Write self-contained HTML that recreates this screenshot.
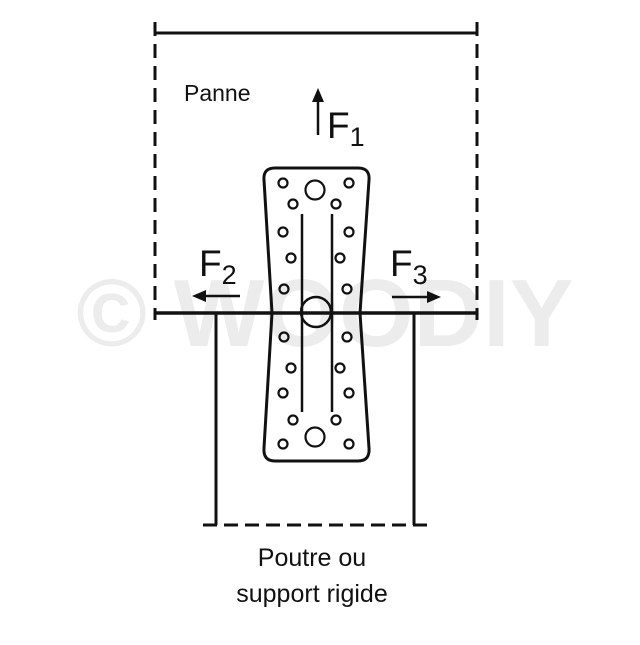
<!DOCTYPE html>
<html><head><style>body{margin:0;background:#fff}</style></head><body>
<svg width="640" height="640" viewBox="0 0 640 640" xmlns="http://www.w3.org/2000/svg" font-family="Liberation Sans, sans-serif">
<text x="325" y="346" text-anchor="middle" font-size="96" font-weight="bold" fill="#ececec">© WOODIY</text>
<g stroke="#111" fill="none">
<line x1="155" y1="33" x2="477" y2="33" stroke-width="3"/>
<line x1="155" y1="22" x2="155" y2="320" stroke-width="3" stroke-dasharray="14,8"/>
<line x1="477" y1="22" x2="477" y2="320" stroke-width="3" stroke-dasharray="14,8"/>
<line x1="155" y1="313" x2="477" y2="313" stroke-width="3.5"/>
<line x1="216" y1="313" x2="216" y2="525" stroke-width="3"/>
<line x1="414" y1="313" x2="414" y2="525" stroke-width="3"/>
<line x1="203" y1="525" x2="430" y2="525" stroke-width="3" stroke-dasharray="14,7"/>
<path d="M275,168 L358,168 Q370,168 369,180 L360,313 L369,448 Q370,461 358,461 L275,461 Q263,461 264,448 L272,313 L264,180 Q263,168 275,168 Z" stroke-width="3" fill="none"/>
<line x1="302" y1="214" x2="302" y2="412" stroke-width="2.5"/>
<line x1="332" y1="214" x2="332" y2="412" stroke-width="2.5"/>
<g stroke-width="2.2" fill="#fff">
<circle cx="315" cy="190" r="9.5"/><circle cx="315" cy="437" r="9.5"/>
</g>
<circle cx="316" cy="312" r="15" stroke-width="2.5" fill="none"/>
<g stroke-width="2.2">
<circle cx="283" cy="183" r="4.5"/><circle cx="349" cy="183" r="4.5"/>
<circle cx="293" cy="204" r="4.5"/><circle cx="336" cy="204" r="4.5"/>
<circle cx="283" cy="232" r="4.5"/><circle cx="349" cy="232" r="4.5"/>
<circle cx="291" cy="258" r="4.5"/><circle cx="340" cy="258" r="4.5"/>
<circle cx="284" cy="289" r="4.5"/><circle cx="347" cy="289" r="4.5"/>
<circle cx="284" cy="337" r="4.5"/><circle cx="347" cy="337" r="4.5"/>
<circle cx="291" cy="368" r="4.5"/><circle cx="340" cy="368" r="4.5"/>
<circle cx="283" cy="393" r="4.5"/><circle cx="349" cy="393" r="4.5"/>
<circle cx="293" cy="420" r="4.5"/><circle cx="336" cy="420" r="4.5"/>
<circle cx="283" cy="444" r="4.5"/><circle cx="349" cy="444" r="4.5"/>
</g>
<line x1="318" y1="135" x2="318" y2="100" stroke-width="2.5"/>
<line x1="240" y1="296" x2="205" y2="296" stroke-width="2.5"/>
<line x1="392" y1="297" x2="428" y2="297" stroke-width="2.5"/>
</g>
<g fill="#111">
<polygon points="318,88 312,102 324,102"/>
<polygon points="192,296 206,290 206,302"/>
<polygon points="441,297 427,291 427,303"/>
</g>
<g fill="#111">
<text x="184" y="101" font-size="23">Panne</text>
<text x="327" y="138" font-size="37">F<tspan font-size="27" dy="8">1</tspan></text>
<text x="199" y="276" font-size="37">F<tspan font-size="27" dy="8">2</tspan></text>
<text x="390" y="276" font-size="37">F<tspan font-size="27" dy="8">3</tspan></text>
<text x="312" y="566" font-size="25" text-anchor="middle">Poutre ou</text>
<text x="312" y="602" font-size="25" text-anchor="middle">support rigide</text>
</g>
</svg>
</body></html>
